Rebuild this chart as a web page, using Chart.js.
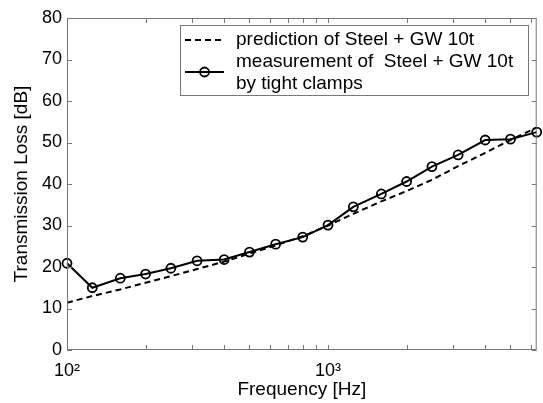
<!DOCTYPE html>
<html>
<head>
<meta charset="utf-8">
<script src="https://cdn.jsdelivr.net/npm/chart.js@4.4.1/dist/chart.umd.min.js"></script>
<style>
  html, body { margin: 0; padding: 0; background: #fff; }
  #wrap { width: 543px; height: 403px; }
</style>
</head>
<body>
<div id="wrap"><canvas id="tl-chart" width="543" height="403"></canvas></div>
<script>
// 1/3 octave band centre frequencies [Hz]
const freqs = [100, 125, 160, 200, 250, 315, 400, 500, 630, 800, 1000, 1250, 1600, 2000, 2500, 3150, 4000, 5000, 6300];
// prediction of Steel + GW 10t [dB]
const predicted = [11.4, 13.0, 14.6, 16.2, 17.8, 19.5, 21.3, 23.2, 25.2, 27.4, 30.0, 32.8, 35.8, 38.3, 41.0, 44.3, 47.5, 50.6, 53.6];
// measurement by tight clamps [dB]
const measured = [20.9, 15.0, 17.3, 18.3, 19.7, 21.5, 21.8, 23.6, 25.5, 27.2, 30.1, 34.5, 37.6, 40.6, 44.2, 47.0, 50.6, 50.8, 52.5];

const yTicks = [0, 10, 20, 30, 40, 50, 60, 70, 80];
const xMajorTicks = [100, 1000];
const xMinorTicks = [200, 300, 400, 500, 600, 700, 800, 900, 2000, 3000, 4000, 5000, 6000];
const xTickLabels = { 100: '10²', 1000: '10³' };

const FONT = 'Liberation Sans, Arial, Helvetica, sans-serif';

// matlab-like box with inward ticks on all 4 sides
const boxTicks = {
  id: 'boxTicks',
  afterDatasetsDraw(chart) {
    const { ctx, chartArea: a, scales } = chart;
    const tl = 5;
    ctx.save();
    ctx.strokeStyle = '#777';
    ctx.lineWidth = 1;
    ctx.strokeRect(a.left + 0.5, a.top + 0.5, a.right - a.left - 1, a.bottom - a.top - 1);
    ctx.beginPath();
    yTicks.forEach(v => {
      const y = Math.round(scales.y.getPixelForValue(v)) + 0.5;
      ctx.moveTo(a.left, y); ctx.lineTo(a.left + tl, y);
      ctx.moveTo(a.right, y); ctx.lineTo(a.right - tl, y);
    });
    xMajorTicks.concat(xMinorTicks).forEach(v => {
      const x = Math.round(scales.x.getPixelForValue(v)) + 0.5;
      ctx.moveTo(x, a.bottom); ctx.lineTo(x, a.bottom - tl);
      ctx.moveTo(x, a.top); ctx.lineTo(x, a.top + tl);
    });
    ctx.stroke();
    ctx.restore();
  }
};

// boxed legend in the upper right, second label on two lines
const boxLegend = {
  id: 'boxLegend',
  afterDraw(chart) {
    const ctx = chart.ctx;
    const bx = 180, by = 25, bw = 348, bh = 70;
    ctx.save();
    ctx.fillStyle = '#fff';
    ctx.fillRect(bx, by, bw, bh);
    ctx.strokeStyle = '#777';
    ctx.lineWidth = 1;
    ctx.strokeRect(bx + 0.5, by + 0.5, bw, bh);

    ctx.strokeStyle = '#000';
    ctx.lineWidth = 2;
    // dashed sample
    ctx.setLineDash([6, 4]);
    ctx.beginPath(); ctx.moveTo(185, 40); ctx.lineTo(224, 40); ctx.stroke();
    // solid sample with marker
    ctx.setLineDash([]);
    ctx.beginPath(); ctx.moveTo(185, 72); ctx.lineTo(224, 72); ctx.stroke();
    ctx.lineWidth = 1.8;
    ctx.beginPath(); ctx.arc(204.5, 72, 4.5, 0, Math.PI * 2); ctx.stroke();

    ctx.fillStyle = '#000';
    ctx.font = '19px ' + FONT;
    ctx.textBaseline = 'middle';
    ctx.textAlign = 'left';
    ctx.fillText('prediction of Steel + GW 10t', 236, 40);
    ctx.fillText('measurement of  Steel + GW 10t', 236, 62);
    ctx.fillText('by tight clamps', 236, 84);
    ctx.restore();
  }
};

const ctx = document.getElementById('tl-chart').getContext('2d');

new Chart(ctx, {
  type: 'line',
  data: {
    datasets: [
      {
        label: 'prediction of Steel + GW 10t',
        data: freqs.map((f, i) => ({ x: f, y: predicted[i] })),
        borderColor: '#000',
        borderWidth: 2,
        borderDash: [6, 4],
        pointRadius: 0,
        fill: false,
        tension: 0,
        clip: false
      },
      {
        label: 'measurement of  Steel + GW 10t by tight clamps',
        data: freqs.map((f, i) => ({ x: f, y: measured[i] })),
        borderColor: '#000',
        borderWidth: 2,
        pointRadius: 4.5,
        pointBorderWidth: 1.8,
        pointBorderColor: '#000',
        pointBackgroundColor: 'rgba(0,0,0,0)',
        fill: false,
        tension: 0,
        clip: false
      }
    ]
  },
  options: {
    responsive: false,
    animation: false,
    devicePixelRatio: 1,
    layout: { padding: { left: 0, right: 4, top: 18, bottom: 0 } },
    plugins: {
      legend: { display: false },
      tooltip: { enabled: false }
    },
    scales: {
      x: {
        type: 'logarithmic',
        min: 100,
        max: 6300,
        afterBuildTicks: s => { s.ticks = xMajorTicks.map(v => ({ value: v })); },
        afterFit: s => { s.height = 53; },
        grid: { display: false, drawTicks: false },
        border: { display: false },
        ticks: {
          color: '#000',
          font: { family: FONT, size: 18 },
          padding: 10,
          maxRotation: 0,
          autoSkip: false,
          callback: v => xTickLabels[v] || ''
        },
        title: {
          display: true,
          text: 'Frequency [Hz]',
          color: '#000',
          font: { family: FONT, size: 19 },
          padding: { top: 0, bottom: 2 }
        }
      },
      y: {
        min: 0,
        max: 80,
        afterBuildTicks: s => { s.ticks = yTicks.map(v => ({ value: v })); },
        afterFit: s => { s.width = 67; },
        grid: { display: false, drawTicks: false },
        border: { display: false },
        ticks: {
          color: '#000',
          font: { family: FONT, size: 18 },
          padding: 5
        },
        title: {
          display: true,
          text: 'Transmission Loss [dB]',
          color: '#000',
          font: { family: FONT, size: 19 },
          padding: { top: 10, bottom: 0 }
        }
      }
    }
  },
  plugins: [boxTicks, boxLegend]
});
</script>
</body>
</html>
